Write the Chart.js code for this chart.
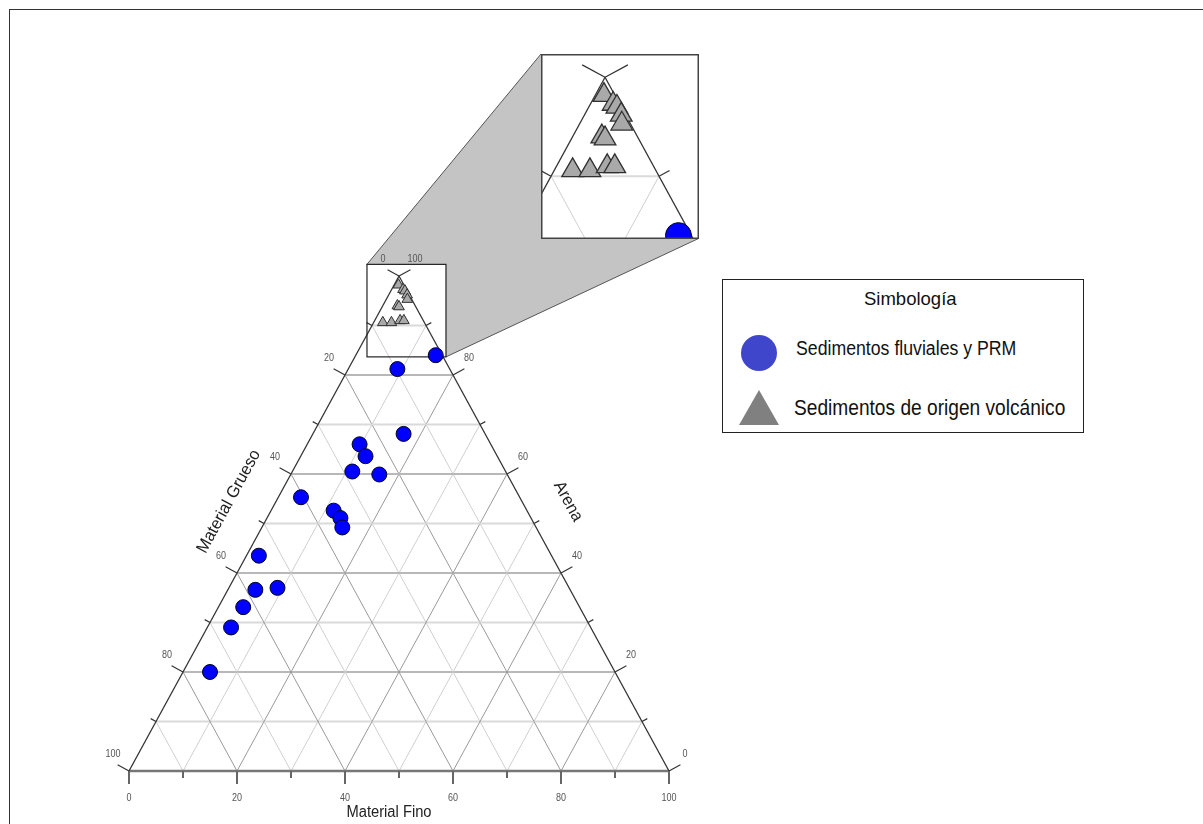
<!DOCTYPE html>
<html>
<head>
<meta charset="utf-8">
<title>Diagrama ternario de sedimentos</title>
<script src="https://cdn.jsdelivr.net/npm/chart.js@4.4.1/dist/chart.umd.min.js"></script>
<style>
  body { margin: 0; background: #fff; font-family: "Liberation Sans", Arial, sans-serif; }
  #page { position: relative; width: 1203px; height: 824px; overflow: hidden; }
  #frame { position: absolute; left: 9px; top: 9px; width: 1300px; height: 900px;
           border-top: 1px solid #333; border-left: 1px solid #333; }
  #mainChart { position: absolute; left: 0; top: 0; }
  #zoomChart { position: absolute; left: 541px; top: 54px; }
  #legend { position: absolute; left: 722px; top: 279px; width: 362px; height: 154px;
            box-sizing: border-box; border: 1px solid #222; background: #fff; color: #111; }
  #legend .txt { position: absolute; white-space: nowrap; transform-origin: 0 50%; }
  #legend .dot { position: absolute; left: 18px; top: 55px; width: 36px; height: 36px;
                 border-radius: 50%; background: #4046cc; }
  #legend .tri { position: absolute; left: 16px; top: 110px; width: 0; height: 0;
                 border-left: 20px solid transparent; border-right: 20px solid transparent;
                 border-bottom: 35px solid #808080; }
</style>
</head>
<body>
<div id="page">
  <div id="frame"></div>
  <canvas id="mainChart" width="1203" height="824"></canvas>
  <canvas id="zoomChart" width="158" height="185"></canvas>
  <div id="legend">
    <div class="txt" style="left:141px; top:10px; font-size:18.5px; line-height:18.5px;">Simbología</div>
    <div class="dot"></div>
    <div class="txt" style="left:73px; top:58px; font-size:20px; line-height:20px; transform:scaleX(0.885);">Sedimentos fluviales y PRM</div>
    <div class="tri"></div>
    <div class="txt" style="left:71px; top:117px; font-size:22px; line-height:22px; transform:scaleX(0.87);">Sedimentos de origen volcánico</div>
  </div>
</div>
<script>
// Composición (%) de cada muestra: fino, grueso, arena
const fluvialFino   = [14.8, 9.1, 16.8, 9.7, 12.0, 11.1, 16.4, 4.2, 11.6, 13.6, 14.9, 2.3, 5.1, 9.0, 4.6, 4.4, 5.0];
const fluvialGrueso = [1.2, 9.7, 15.1, 24.3, 24.4, 28.4, 23.7, 40.5, 35.8, 35.3, 35.9, 54.2, 58.3, 54.0, 62.3, 66.6, 75.0];
const fluvialArena  = [84.0, 81.2, 68.1, 66.0, 63.6, 60.5, 59.9, 55.3, 52.6, 51.1, 49.2, 43.5, 36.6, 37.0, 33.1, 29.0, 20.0];

const volcanicFino   = [0.8, 2.1, 2.6, 3.4, 3.9, 2.7, 3.1, 1.7, 3.3, 4.7, 5.4];
const volcanicGrueso = [1.0, 0.6, 0.4, 0.4, 0.8, 3.3, 3.1, 7.7, 6.1, 4.3, 3.6];
const volcanicArena  = [98.2, 97.3, 97.0, 96.2, 95.3, 94.0, 93.8, 90.6, 90.6, 91.0, 91.0];

const seriesNames = ['Sedimentos fluviales y PRM', 'Sedimentos de origen volcánico'];
const axisTitles = ['Material Fino', 'Material Grueso', 'Arena'];
const tickValues = [0, 10, 20, 30, 40, 50, 60, 70, 80, 90, 100];
const labelValues = [0, 20, 40, 60, 80, 100];

// vista ampliada del vértice superior
const zoomX = [44.07, 58.70];
const zoomY = [83.66, 102.35];
const zoomBox = { left: 541, top: 54, width: 158, height: 185 };

const FONT = '"Liberation Sans", Arial, sans-serif';

// ternario -> cartesiano (base = fino, altura = arena)
function toXY(fino, grueso, arena) {
    const t = fino + grueso + arena;
    return { x: (fino + arena / 2) * 100 / t, y: arena * 100 / t };
}

const fluvialPts = fluvialFino.map((f, i) => toXY(f, fluvialGrueso[i], fluvialArena[i]));
const volcanicPts = volcanicFino.map((f, i) => toXY(f, volcanicGrueso[i], volcanicArena[i]));

function seg(ctx, a, b, color, w) {
    ctx.beginPath();
    ctx.moveTo(a[0], a[1]);
    ctx.lineTo(b[0], b[1]);
    ctx.strokeStyle = color;
    ctx.lineWidth = w;
    ctx.stroke();
}

function text(ctx, str, x, y, size, color, rot, sx) {
    ctx.save();
    ctx.translate(x, y);
    if (rot) ctx.rotate(rot);
    ctx.scale(sx || 1, 1);
    ctx.font = size + 'px ' + FONT;
    ctx.fillStyle = color;
    ctx.textAlign = 'center';
    ctx.textBaseline = 'middle';
    ctx.fillText(str, 0, 0);
    ctx.restore();
}

// rejilla, bordes y marcas del triángulo, usando las escalas del gráfico
function drawTernary(chart, k) {
    const ctx = chart.ctx;
    const xs = chart.scales.x, ys = chart.scales.y;
    const P = (x, y) => [xs.getPixelForValue(x), ys.getPixelForValue(y)];

    for (let v = 10; v < 100; v += 10) {
        const major = v % 20 === 0;
        seg(ctx, P(v / 2, v), P(100 - v / 2, v), major ? '#b8b8b8' : '#dadada', 2);
        const c = major ? '#9a9a9a' : '#cfcfcf';
        seg(ctx, P(v, 0), P(v + (100 - v) / 2, 100 - v), c, 1);
        seg(ctx, P(100 - v, 0), P((100 - v) / 2, 100 - v), c, 1);
    }
    seg(ctx, P(0, 0), P(100, 0), '#777', 2.5);
    seg(ctx, P(0, 0), P(50, 100), '#333', 1.3);
    seg(ctx, P(100, 0), P(50, 100), '#333', 1.3);

    tickValues.forEach(v => {
        const major = v % 20 === 0;
        const len = (major ? 13 : 6) * k;
        // izquierda: grueso
        const l = P((100 - v) / 2, 100 - v);
        seg(ctx, l, [l[0] - 0.879 * len, l[1] - 0.477 * len], '#333', 1.2);
        // derecha: arena
        const r = P(100 - v / 2, v);
        seg(ctx, r, [r[0] + 0.879 * len, r[1] - 0.477 * len], '#333', 1.2);
        // base: fino
        const b = P(v, 0);
        seg(ctx, b, [b[0], b[1] + (major ? 13 : 7) * k], '#666', 2);
    });
}

const mainPlugin = {
    id: 'ternaryMain',
    beforeDatasetsDraw(chart) {
        const ctx = chart.ctx;
        const xs = chart.scales.x, ys = chart.scales.y;
        const P = (x, y) => [xs.getPixelForValue(x), ys.getPixelForValue(y)];
        const bx0 = xs.getPixelForValue(zoomX[0]), bx1 = xs.getPixelForValue(zoomX[1]);
        const by0 = ys.getPixelForValue(zoomY[1]), by1 = ys.getPixelForValue(zoomY[0]);

        ctx.save();
        // conector gris hacia la ampliación
        ctx.beginPath();
        ctx.moveTo(bx0, by0);
        ctx.lineTo(zoomBox.left, zoomBox.top);
        ctx.lineTo(zoomBox.left + zoomBox.width - 0.5, zoomBox.top + zoomBox.height - 0.5);
        ctx.lineTo(bx1, by1);
        ctx.closePath();
        ctx.fillStyle = '#c4c4c4';
        ctx.fill();
        ctx.strokeStyle = '#555';
        ctx.lineWidth = 1;
        ctx.stroke();
        ctx.fillStyle = '#fff';
        ctx.fillRect(bx0, by0, bx1 - bx0, by1 - by0);

        drawTernary(chart, 1);

        // etiquetas de las marcas
        labelValues.forEach(v => {
            const l = P((100 - v) / 2, 100 - v);
            text(ctx, String(v), l[0] - 16, l[1] - 17, 10, '#555', 0, 0.9);
            const r = P(100 - v / 2, v);
            text(ctx, String(v), r[0] + 16, r[1] - 17, 10, '#555', 0, 0.9);
            const b = P(v, 0);
            text(ctx, String(v), b[0], b[1] + 27, 10, '#555', 0, 0.9);
        });

        // títulos de los ejes
        const ang = Math.atan2(ys.getPixelForValue(0) - ys.getPixelForValue(100),
                               xs.getPixelForValue(50) - xs.getPixelForValue(0));
        const base = P(50, 0);
        text(ctx, axisTitles[0], base[0] - 10, base[1] + 42, 16, '#222', 0, 0.92);
        const lm = P(25, 50), rm = P(75, 50);
        text(ctx, axisTitles[1], lm[0] - 35, lm[1] - 22, 17, '#222', -ang, 0.95);
        text(ctx, axisTitles[2], rm[0] + 34, rm[1] - 22, 17, '#222', ang, 0.95);

        ctx.strokeStyle = '#222';
        ctx.lineWidth = 1.2;
        ctx.strokeRect(bx0, by0, bx1 - bx0, by1 - by0);
        ctx.restore();
    }
};

const zoomPlugin = {
    id: 'ternaryZoom',
    beforeDatasetsDraw(chart) {
        const ctx = chart.ctx;
        ctx.save();
        ctx.fillStyle = '#fff';
        ctx.fillRect(0, 0, chart.width, chart.height);
        drawTernary(chart, 2);
        ctx.restore();
    },
    afterDraw(chart) {
        const ctx = chart.ctx;
        ctx.save();
        ctx.strokeStyle = '#444';
        ctx.lineWidth = 1.5;
        ctx.strokeRect(0.75, 0.75, chart.width - 1.5, chart.height - 1.5);
        ctx.restore();
    }
};

function makeDatasets(circleR, triR, triBorder) {
    return [{
        label: seriesNames[1],
        data: volcanicPts,
        pointStyle: 'triangle',
        pointRadius: triR,
        backgroundColor: '#a9a9a9',
        borderColor: '#303030',
        borderWidth: triBorder
    }, {
        label: seriesNames[0],
        data: fluvialPts,
        pointStyle: 'circle',
        pointRadius: circleR,
        backgroundColor: '#0000ff',
        borderColor: '#000022',
        borderWidth: 1
    }];
}

function baseOptions(xr, yr, padding) {
    return {
        responsive: false,
        animation: false,
        events: [],
        layout: { padding: padding, autoPadding: false },
        plugins: { legend: { display: false }, tooltip: { enabled: false } },
        scales: {
            x: { type: 'linear', min: xr[0], max: xr[1], display: false },
            y: { type: 'linear', min: yr[0], max: yr[1], display: false }
        }
    };
}

new Chart(document.getElementById('mainChart'), {
    type: 'scatter',
    data: { datasets: makeDatasets(7.5, 6.2, 1) },
    options: baseOptions([0, 100], [0, 100], { left: 129, right: 534, top: 276, bottom: 53 }),
    plugins: [mainPlugin]
});

new Chart(document.getElementById('zoomChart'), {
    type: 'scatter',
    data: { datasets: makeDatasets(13, 12.5, 1.3) },
    options: baseOptions(zoomX, zoomY, 0),
    plugins: [zoomPlugin]
});
</script>
</body>
</html>
